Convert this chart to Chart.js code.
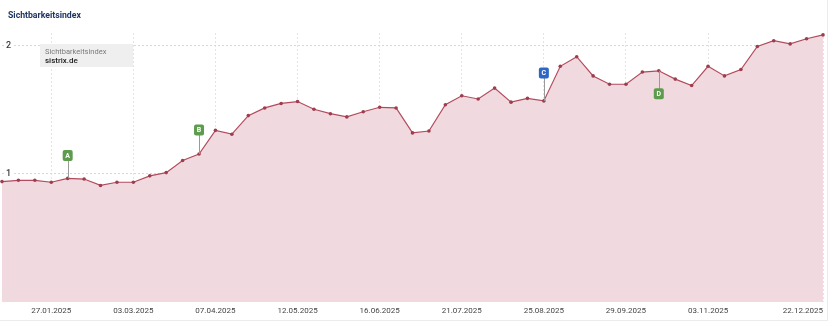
<!DOCTYPE html>
<html>
<head>
<meta charset="utf-8">
<script src="https://cdn.jsdelivr.net/npm/chart.js@4.4.1/dist/chart.umd.min.js"></script>
<style>
  html, body { margin: 0; padding: 0; background: #fff; }
  #wrap { position: relative; width: 830px; height: 322px; overflow: hidden; }
  #frame { position: absolute; left: 0; top: 0; width: 827px; height: 320px; border-right: 1px solid #ececec; border-bottom: 1px solid #ececec; pointer-events: none; }
  #title { position: absolute; left: 8px; top: 10px; font: bold 8.7px Roboto, sans-serif; color: #1f3562; }
  #legend { position: absolute; left: 40px; top: 44px; width: 93px; height: 23px; background: #efefef; font-family: Roboto, sans-serif; }
  #legend .l1 { position: absolute; left: 5px; top: 3px; font-size: 7.5px; color: #7a7a7a; }
  #legend .l2 { position: absolute; left: 5px; top: 12px; font-size: 8px; font-weight: 500; color: #222; }
  canvas { position: absolute; left: 0; top: 0; }
</style>
</head>
<body>
<div id="wrap">
  <canvas id="chart" width="830" height="322"></canvas>
  <div id="title">Sichtbarkeitsindex</div>
  <div id="legend"><div class="l1">Sichtbarkeitsindex</div><div class="l2">sistrix.de</div></div>
  <div id="frame"></div>
</div>
<script>
// weekly dates (Mondays)
const weeks = [
  '06.01.2025', '13.01.2025', '20.01.2025', '27.01.2025', '03.02.2025', '10.02.2025', '17.02.2025',
  '24.02.2025', '03.03.2025', '10.03.2025', '17.03.2025', '24.03.2025', '31.03.2025', '07.04.2025',
  '14.04.2025', '21.04.2025', '28.04.2025', '05.05.2025', '12.05.2025', '19.05.2025', '26.05.2025',
  '02.06.2025', '09.06.2025', '16.06.2025', '23.06.2025', '30.06.2025', '07.07.2025', '14.07.2025',
  '21.07.2025', '28.07.2025', '04.08.2025', '11.08.2025', '18.08.2025', '25.08.2025', '01.09.2025',
  '08.09.2025', '15.09.2025', '22.09.2025', '29.09.2025', '06.10.2025', '13.10.2025', '20.10.2025',
  '27.10.2025', '03.11.2025', '10.11.2025', '17.11.2025', '24.11.2025', '01.12.2025', '08.12.2025',
  '15.12.2025', '22.12.2025'
];

const visibility = [
  0.94, 0.95, 0.95, 0.935, 0.965, 0.96, 0.91, 0.935, 0.935, 0.985, 1.01, 1.105, 1.155,
  1.34, 1.31, 1.455, 1.515, 1.55, 1.565, 1.505, 1.47, 1.445, 1.485, 1.52, 1.515,
  1.32, 1.335, 1.54, 1.61, 1.585, 1.67, 1.56, 1.59, 1.57, 1.84, 1.915, 1.765,
  1.70, 1.70, 1.795, 1.805, 1.74, 1.69, 1.84, 1.765, 1.815, 1.995, 2.04, 2.015,
  2.055, 2.085
];

// dates shown on the x axis
const axisDates = [
  '27.01.2025', '03.03.2025', '07.04.2025', '12.05.2025', '16.06.2025',
  '21.07.2025', '25.08.2025', '29.09.2025', '03.11.2025', '22.12.2025'
];

const yTicks = [1, 2];

// event flags
const eventDates = ['03.02.2025', '31.03.2025', '25.08.2025', '13.10.2025'];
const eventLetters = ['A', 'B', 'C', 'D'];
const eventColors = ['#5d9c4c', '#5d9c4c', '#2d66c4', '#5d9c4c'];
const eventOffsets = [-23, -24, -28, 23];

const eventFlags = {
  id: 'eventFlags',
  afterDatasetsDraw(chart) {
    const ctx = chart.ctx;
    const x = chart.scales.x, y = chart.scales.y;
    eventDates.forEach((d, i) => {
      const idx = weeks.indexOf(d);
      const px = x.getPixelForValue(idx);
      const py = y.getPixelForValue(visibility[idx]);
      const cy = py + eventOffsets[i];
      ctx.save();
      ctx.strokeStyle = '#9a9a9a';
      ctx.lineWidth = 1;
      ctx.beginPath();
      ctx.moveTo(Math.round(px) + 0.5, py);
      ctx.lineTo(Math.round(px) + 0.5, cy);
      ctx.stroke();
      ctx.fillStyle = eventColors[i];
      ctx.beginPath();
      ctx.roundRect(px - 5, cy - 5.5, 10, 11, 2);
      ctx.fill();
      ctx.fillStyle = '#fff';
      ctx.font = 'bold 7px Roboto, sans-serif';
      ctx.textAlign = 'center';
      ctx.textBaseline = 'middle';
      ctx.fillText(eventLetters[i], px, cy + 0.5);
      ctx.restore();
    });
  }
};

const xLabels = {
  id: 'xLabels',
  afterDraw(chart) {
    const ctx = chart.ctx;
    const x = chart.scales.x;
    ctx.save();
    ctx.font = '8px Roboto, sans-serif';
    ctx.fillStyle = '#444';
    ctx.textBaseline = 'middle';
    axisDates.forEach((d, i) => {
      const px = x.getPixelForValue(weeks.indexOf(d));
      const last = i === axisDates.length - 1;
      ctx.textAlign = last ? 'right' : 'center';
      ctx.fillText(d, px, 311);
    });
    ctx.restore();
  }
};

const isAxisDate = i => axisDates.includes(weeks[i]);

new Chart(document.getElementById('chart').getContext('2d'), {
  type: 'line',
  data: {
    labels: weeks,
    datasets: [{
      data: visibility,
      borderColor: '#b24b5d',
      borderWidth: 1.2,
      backgroundColor: '#f1dadf',
      fill: 'origin',
      tension: 0,
      pointRadius: 1.8,
      pointBackgroundColor: '#9e3d4e',
      pointBorderWidth: 0,
      clip: false
    }]
  },
  options: {
    responsive: false,
    animation: false,
    events: [],
    layout: { autoPadding: false, padding: { top: 33, left: 2, right: 7, bottom: 20 } },
    scales: {
      x: {
        ticks: { display: false, autoSkip: false },
        border: { display: false, dash: [2, 2] },
        grid: {
          drawTicks: false,
          color: ctx => isAxisDate(ctx.index) ? '#e4e4e4' : 'transparent',
          lineWidth: 1
        }
      },
      y: {
        min: 0,
        max: 2.1,
        afterBuildTicks: s => { s.ticks = yTicks.map(v => ({ value: v })); },
        afterFit: s => { s.width = 0; },
        border: { display: false, dash: [2, 2] },
        grid: { drawTicks: false, color: '#d8d8d8' },
        ticks: {
          mirror: true,
          padding: 4,
          color: '#3a3a3a',
          font: { family: 'Roboto', size: 9, weight: 500 },
          showLabelBackdrop: true,
          backdropColor: '#fff',
          backdropPadding: { left: 2, right: 3, top: 0, bottom: 0 },
          callback: v => String(v)
        }
      }
    },
    plugins: {
      legend: { display: false },
      tooltip: { enabled: false }
    }
  },
  plugins: [eventFlags, xLabels]
});
</script>
</body>
</html>
